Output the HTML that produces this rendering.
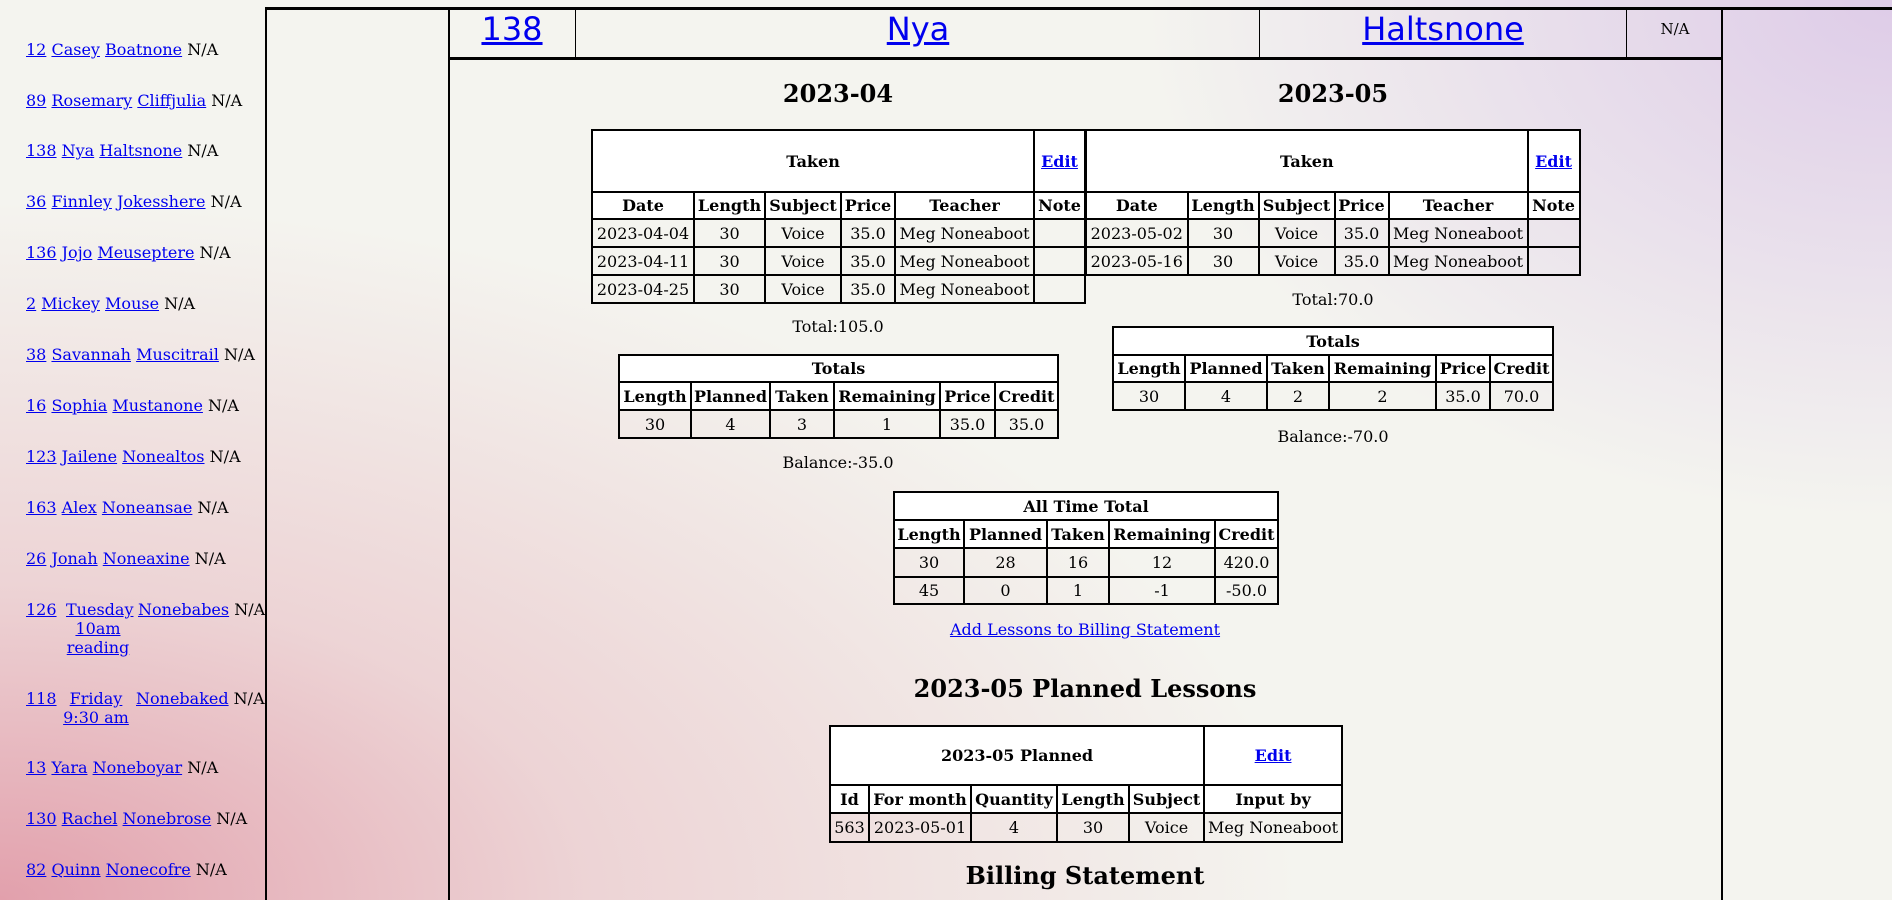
<!DOCTYPE html>
<html><head><meta charset="utf-8"><style>
html,body{margin:0;padding:0;width:1892px;height:900px;overflow:hidden;}
body{font-family:"DejaVu Serif","Liberation Serif",serif;font-size:16px;color:#000;
background:
 radial-gradient(ellipse 750px 520px at 1892px 0px, rgba(222,204,232,1), rgba(222,204,232,0)),
 radial-gradient(ellipse 1300px 700px at 0px 900px, rgba(226,160,172,1) 0%, rgba(232,190,196,0.6) 45%, rgba(244,244,239,0) 100%),
 #f4f4ef;}
a{color:#0000ee;text-decoration:underline;}
.abs{position:absolute;white-space:nowrap;}
.sb{position:absolute;left:26px;line-height:19px;white-space:nowrap;}
.line{position:absolute;background:#000;}
table{position:absolute;border-collapse:collapse;table-layout:fixed;}
td,th{border:2px solid #000;padding:0;text-align:center;white-space:nowrap;overflow:hidden;font-size:16px;}
th{font-weight:bold;background:#fff;}
.c{text-align:center;transform:translateX(-50%);}
h2{position:absolute;margin:0;font-size:24px;font-weight:bold;white-space:nowrap;transform:translateX(-50%);}
.hdr{font-family:"DejaVu Sans","Liberation Sans",sans-serif;font-size:32px;}
</style></head><body>

<div class="sb" style="top:40px"><a>12</a> <a>Casey</a> <a>Boatnone</a> N/A</div>
<div class="sb" style="top:91px"><a>89</a> <a>Rosemary</a> <a>Cliffjulia</a> N/A</div>
<div class="sb" style="top:141px"><a>138</a> <a>Nya</a> <a>Haltsnone</a> N/A</div>
<div class="sb" style="top:192px"><a>36</a> <a>Finnley</a> <a>Jokesshere</a> N/A</div>
<div class="sb" style="top:243px"><a>136</a> <a>Jojo</a> <a>Meuseptere</a> N/A</div>
<div class="sb" style="top:294px"><a>2</a> <a>Mickey</a> <a>Mouse</a> N/A</div>
<div class="sb" style="top:345px"><a>38</a> <a>Savannah</a> <a>Muscitrail</a> N/A</div>
<div class="sb" style="top:396px"><a>16</a> <a>Sophia</a> <a>Mustanone</a> N/A</div>
<div class="sb" style="top:447px"><a>123</a> <a>Jailene</a> <a>Nonealtos</a> N/A</div>
<div class="sb" style="top:498px"><a>163</a> <a>Alex</a> <a>Noneansae</a> N/A</div>
<div class="sb" style="top:549px"><a>26</a> <a>Jonah</a> <a>Noneaxine</a> N/A</div>
<div class="sb" style="top:600px"><a>126</a></div>
<div class="abs" style="left:66px;top:600px;line-height:19px;text-align:center;width:64px"><a>Tuesday</a><br><a>10am</a><br><a>reading</a></div>
<div class="abs" style="left:138px;top:600px;line-height:19px"><a>Nonebabes</a> N/A</div>
<div class="sb" style="top:689px"><a>118</a></div>
<div class="abs" style="left:62px;top:689px;line-height:19px;text-align:center;width:68px"><a>Friday</a><br><a>9:30 am</a></div>
<div class="abs" style="left:136px;top:689px;line-height:19px"><a>Nonebaked</a> N/A</div>
<div class="sb" style="top:758px"><a>13</a> <a>Yara</a> <a>Noneboyar</a> N/A</div>
<div class="sb" style="top:809px"><a>130</a> <a>Rachel</a> <a>Nonebrose</a> N/A</div>
<div class="sb" style="top:860px"><a>82</a> <a>Quinn</a> <a>Nonecofre</a> N/A</div>

<div class="line" style="left:265px;top:7px;width:1627px;height:3px"></div>
<div class="line" style="left:265px;top:7px;width:2px;height:893px"></div>
<div class="line" style="left:448px;top:7px;width:2px;height:893px"></div>
<div class="line" style="left:1721px;top:7px;width:2px;height:893px"></div>
<div class="line" style="left:448px;top:57px;width:1275px;height:3px"></div>
<div class="line" style="left:575px;top:8px;width:1px;height:50px"></div>
<div class="line" style="left:1259px;top:8px;width:1px;height:50px"></div>
<div class="line" style="left:1626px;top:8px;width:1px;height:50px"></div>
<div class="abs c hdr" style="left:512px;top:10px"><a>138</a></div>
<div class="abs c hdr" style="left:918px;top:10px"><a>Nya</a></div>
<div class="abs c hdr" style="left:1443px;top:10px"><a>Haltsnone</a></div>
<div class="abs c" style="left:1675px;top:20px;font-size:15px">N/A</div>

<h2 style="left:838px;top:79px">2023-04</h2>
<h2 style="left:1333px;top:79px">2023-05</h2>

<table style="left:591px;top:129px;width:493px">
<col style="width:102px"><col style="width:71px"><col style="width:76px"><col style="width:54px"><col style="width:139px"><col style="width:51px">
<tr style="height:62px"><th colspan="5">Taken</th><th><a>Edit</a></th></tr>
<tr style="height:27px"><th>Date</th><th>Length</th><th>Subject</th><th>Price</th><th>Teacher</th><th>Note</th></tr>
<tr style="height:28px"><td>2023-04-04</td><td>30</td><td>Voice</td><td>35.0</td><td>Meg Noneaboot</td><td></td></tr>
<tr style="height:28px"><td>2023-04-11</td><td>30</td><td>Voice</td><td>35.0</td><td>Meg Noneaboot</td><td></td></tr>
<tr style="height:28px"><td>2023-04-25</td><td>30</td><td>Voice</td><td>35.0</td><td>Meg Noneaboot</td><td></td></tr>
</table>
<table style="left:1084px;top:129px;width:494px;border-left:3px solid #000">
<col style="width:102px"><col style="width:71px"><col style="width:76px"><col style="width:54px"><col style="width:139px"><col style="width:52px">
<tr style="height:62px"><th colspan="5">Taken</th><th><a>Edit</a></th></tr>
<tr style="height:27px"><th>Date</th><th>Length</th><th>Subject</th><th>Price</th><th>Teacher</th><th>Note</th></tr>
<tr style="height:28px"><td>2023-05-02</td><td>30</td><td>Voice</td><td>35.0</td><td>Meg Noneaboot</td><td></td></tr>
<tr style="height:28px"><td>2023-05-16</td><td>30</td><td>Voice</td><td>35.0</td><td>Meg Noneaboot</td><td></td></tr>
</table>

<div class="abs c" style="left:838px;top:317px">Total:105.0</div>
<div class="abs c" style="left:1333px;top:290px">Total:70.0</div>

<table style="left:618px;top:354px;width:439px">
<col style="width:72px"><col style="width:79px"><col style="width:64px"><col style="width:106px"><col style="width:55px"><col style="width:63px">
<tr style="height:27px"><th colspan="6">Totals</th></tr>
<tr style="height:28px"><th>Length</th><th>Planned</th><th>Taken</th><th>Remaining</th><th>Price</th><th>Credit</th></tr>
<tr style="height:28px"><td>30</td><td>4</td><td>3</td><td>1</td><td>35.0</td><td>35.0</td></tr>
</table>
<div class="abs c" style="left:838px;top:453px">Balance:-35.0</div>

<table style="left:1112px;top:326px;width:440px">
<col style="width:72px"><col style="width:82px"><col style="width:62px"><col style="width:107px"><col style="width:54px"><col style="width:63px">
<tr style="height:28px"><th colspan="6">Totals</th></tr>
<tr style="height:27px"><th>Length</th><th>Planned</th><th>Taken</th><th>Remaining</th><th>Price</th><th>Credit</th></tr>
<tr style="height:28px"><td>30</td><td>4</td><td>2</td><td>2</td><td>35.0</td><td>70.0</td></tr>
</table>
<div class="abs c" style="left:1333px;top:427px">Balance:-70.0</div>

<table style="left:893px;top:491px;width:384px">
<col style="width:70px"><col style="width:83px"><col style="width:62px"><col style="width:106px"><col style="width:63px">
<tr style="height:28px"><th colspan="5">All Time Total</th></tr>
<tr style="height:28px"><th>Length</th><th>Planned</th><th>Taken</th><th>Remaining</th><th>Credit</th></tr>
<tr style="height:29px"><td>30</td><td>28</td><td>16</td><td>12</td><td>420.0</td></tr>
<tr style="height:27px"><td>45</td><td>0</td><td>1</td><td>-1</td><td>-50.0</td></tr>
</table>

<div class="abs c" style="left:1085px;top:620px"><a>Add Lessons to Billing Statement</a></div>
<h2 style="left:1085px;top:674px">2023-05 Planned Lessons</h2>

<table style="left:829px;top:725px;width:512px">
<col style="width:39px"><col style="width:102px"><col style="width:86px"><col style="width:72px"><col style="width:75px"><col style="width:138px">
<tr style="height:59px"><th colspan="5">2023-05 Planned</th><th><a>Edit</a></th></tr>
<tr style="height:28px"><th>Id</th><th>For month</th><th>Quantity</th><th>Length</th><th>Subject</th><th>Input by</th></tr>
<tr style="height:29px"><td>563</td><td>2023-05-01</td><td>4</td><td>30</td><td>Voice</td><td>Meg Noneaboot</td></tr>
</table>

<h2 style="left:1085px;top:861px">Billing Statement</h2>
</body></html>
